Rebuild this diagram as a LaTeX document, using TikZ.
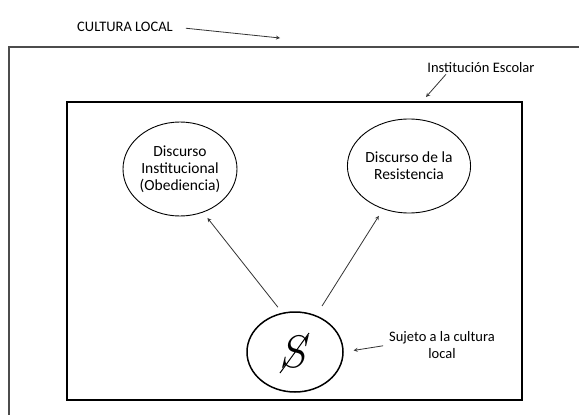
\documentclass[tikz,border=0pt]{standalone}
\usepackage{fontspec}
\setmainfont{Carlito}
\usetikzlibrary{shapes.geometric}

\tikzset{
  lbl/.style={font=\fontsize{14.5}{17}\selectfont, inner sep=1pt},
  disc/.style={ellipse, draw, line width=0.9pt, minimum width=109pt, minimum height=94pt,
    inner sep=0pt, align=center, font=\fontsize{15.5}{17}\selectfont},
  pointer/.style={->, line width=0.8pt, black!80}
}

\begin{document}
\begin{tikzpicture}[>=stealth, x=1pt, y=-1pt]
  \useasboundingbox (0,0) rectangle (579,415);
  \clip (0,0) rectangle (579,415);
  % outer frame (cut by the page) and the school box
  \draw[line width=1.3pt, black!70] (9,47) rectangle (600,440);
  \draw[line width=1.8pt] (67,102) rectangle (522,400);
  % labels
  \node[lbl] (cultura) at (125,27) {CULTURA LOCAL};
  \node[lbl] (escolar) at (481,68) {Institución Escolar};
  \node[lbl, align=center] (sujeto) at (442,345) {Sujeto a la cultura\\local};
  \coordinate (outtop) at (280,38);
  \coordinate (inntop) at (426,97);
  % the two discourses and the subject
  \node[disc] (obed) at (180,169) {Discurso\\Institucional\\(Obediencia)};
  \node[disc] (resis) at (409,166) {Discurso de la\\Resistencia};
  \node[ellipse, draw, line width=1.5pt, minimum width=96pt, minimum height=80pt, inner sep=0pt,
    font=\fontsize{20}{20}\selectfont] (subj) at (295,352) {\scalebox{2.2}{$S$}};
  \draw[line width=1pt] ([shift={(-15,21)}]subj.center) -- ([shift={(14,-19)}]subj.center);
  % arrows
  \draw[pointer, shorten <=12pt] (cultura.east) -- (outtop);
  \draw[pointer] ([xshift=-35pt]escolar.south) -- (inntop);
  \draw[pointer, shorten <=5pt, shorten >=10pt] (sujeto.west) -- (subj.east);
  \draw[pointer, shorten <=7pt, shorten >=7pt] (subj.108) -- (obed.-62);
  \draw[pointer, shorten <=11pt, shorten >=8pt] (subj.60) -- (resis.-121);
\end{tikzpicture}
\end{document}
